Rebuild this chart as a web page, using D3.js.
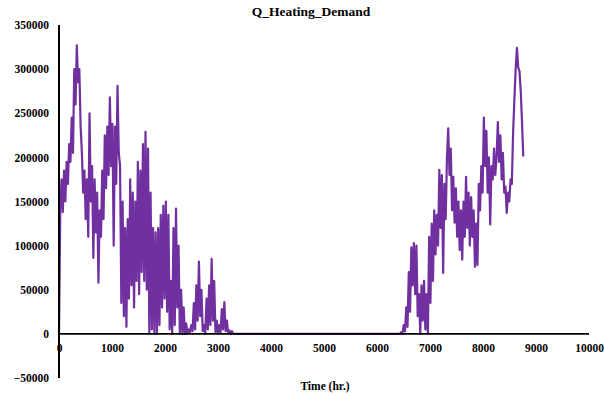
<!DOCTYPE html>
<html><head><meta charset="utf-8">
<script src="https://cdn.jsdelivr.net/npm/d3@7"></script>
<style>html,body{margin:0;padding:0;background:#fff;}svg{display:block;}</style>
</head><body>
<svg id="chart" width="604" height="396"></svg>
<script>
// Data (values in W); readings are every 24 hours within each heating season
const title = "Q_Heating_Demand";
const xTitle = "Time (hr.)";
const xTicks = [0,1000,2000,3000,4000,5000,6000,7000,8000,9000,10000];
const yTicks = [-50000,0,50000,100000,150000,200000,250000,300000,350000];
const season1Start = 0, season2Start = 6408, stepHours = 24;
const season1 = [0,140,175,138,185,150,195,170,215,195,245,205,300,260,327,285,300,235,205,160,185,130,175,110,250,150,190,86,175,115,160,58,140,110,185,130,225,165,235,180,268,190,238,100,235,170,281,205,190,35,150,20,120,8,130,40,175,55,160,30,150,60,195,45,185,70,215,60,229,50,210,0,160,5,120,0,115,0,120,10,135,30,145,40,150,25,135,5,60,0,120,10,142,30,100,0,50,0,30,0,12,0,5,2,10,3,35,5,55,15,82,20,50,3,10,0,40,5,55,10,85,15,60,2,15,0,10,2,28,5,36,3,15,0,4,0,3,0,0].map(v=>v*1000);
const season2 = [0,0,2,0,10,3,30,8,70,25,98,55,103,45,100,20,45,0,55,15,60,5,45,0,110,35,125,60,140,90,135,100,186,120,180,69,170,130,200,233,180,210,140,178,126,165,110,150,95,140,84,150,110,178,120,160,100,155,110,140,76,125,78,170,140,190,160,245,190,230,160,200,124,190,175,210,180,200,240,195,225,175,205,160,167,137,160,150,175,170,228,265,300,324,302,298,275,240,201].map(v=>v*1000);

const points = [];
season1.forEach((v,i)=>points.push([season1Start + i*stepHours, v]));
season2.forEach((v,i)=>points.push([season2Start + i*stepHours, v]));

const svg = d3.select("#chart");
const x = d3.scaleLinear().domain([0,10000]).range([59,589]);
const y = d3.scaleLinear().domain([-50000,350000]).range([378,25]);
const font = "'Liberation Serif','Times New Roman',serif";

// data line
svg.append("path").datum(points)
  .attr("fill","none").attr("stroke","#7030A0").attr("stroke-width",2.2)
  .attr("stroke-linejoin","round")
  .attr("d", d3.line().x(d=>x(d[0])).y(d=>y(d[1])));

// x axis line at y=0
const xAxis = svg.append("g").attr("transform",`translate(0,${y(0)})`)
  .call(d3.axisBottom(x).tickValues(xTicks).tickSize(0).tickPadding(10).tickFormat(d3.format("d")));
xAxis.select(".domain").attr("stroke","#000").attr("stroke-width",1.6).attr("d",`M${x(0)},0H${x(10000)}`);
xAxis.selectAll("text").attr("font-family",font).attr("font-weight","bold").attr("font-size","11.5px").attr("fill","#000");

// y axis
const yAxis = svg.append("g").attr("transform",`translate(${x(0)},0)`)
  .call(d3.axisLeft(y).tickValues(yTicks).tickSize(0).tickPadding(10).tickFormat(d3.format("d")));
yAxis.select(".domain").attr("stroke","#000").attr("stroke-width",2).attr("d",`M0,${y(350000)}V${y(-50000)}`);
yAxis.selectAll("text").attr("font-family",font).attr("font-weight","bold").attr("font-size","11.5px").attr("fill","#000");

// titles
svg.append("text").attr("x",311).attr("y",16).attr("text-anchor","middle")
  .attr("font-family",font).attr("font-weight","bold").attr("font-size","13.5px").text(title);
svg.append("text").attr("x",325).attr("y",390).attr("text-anchor","middle")
  .attr("font-family",font).attr("font-weight","bold").attr("font-size","11.5px").text(xTitle);
</script>
</body></html>
